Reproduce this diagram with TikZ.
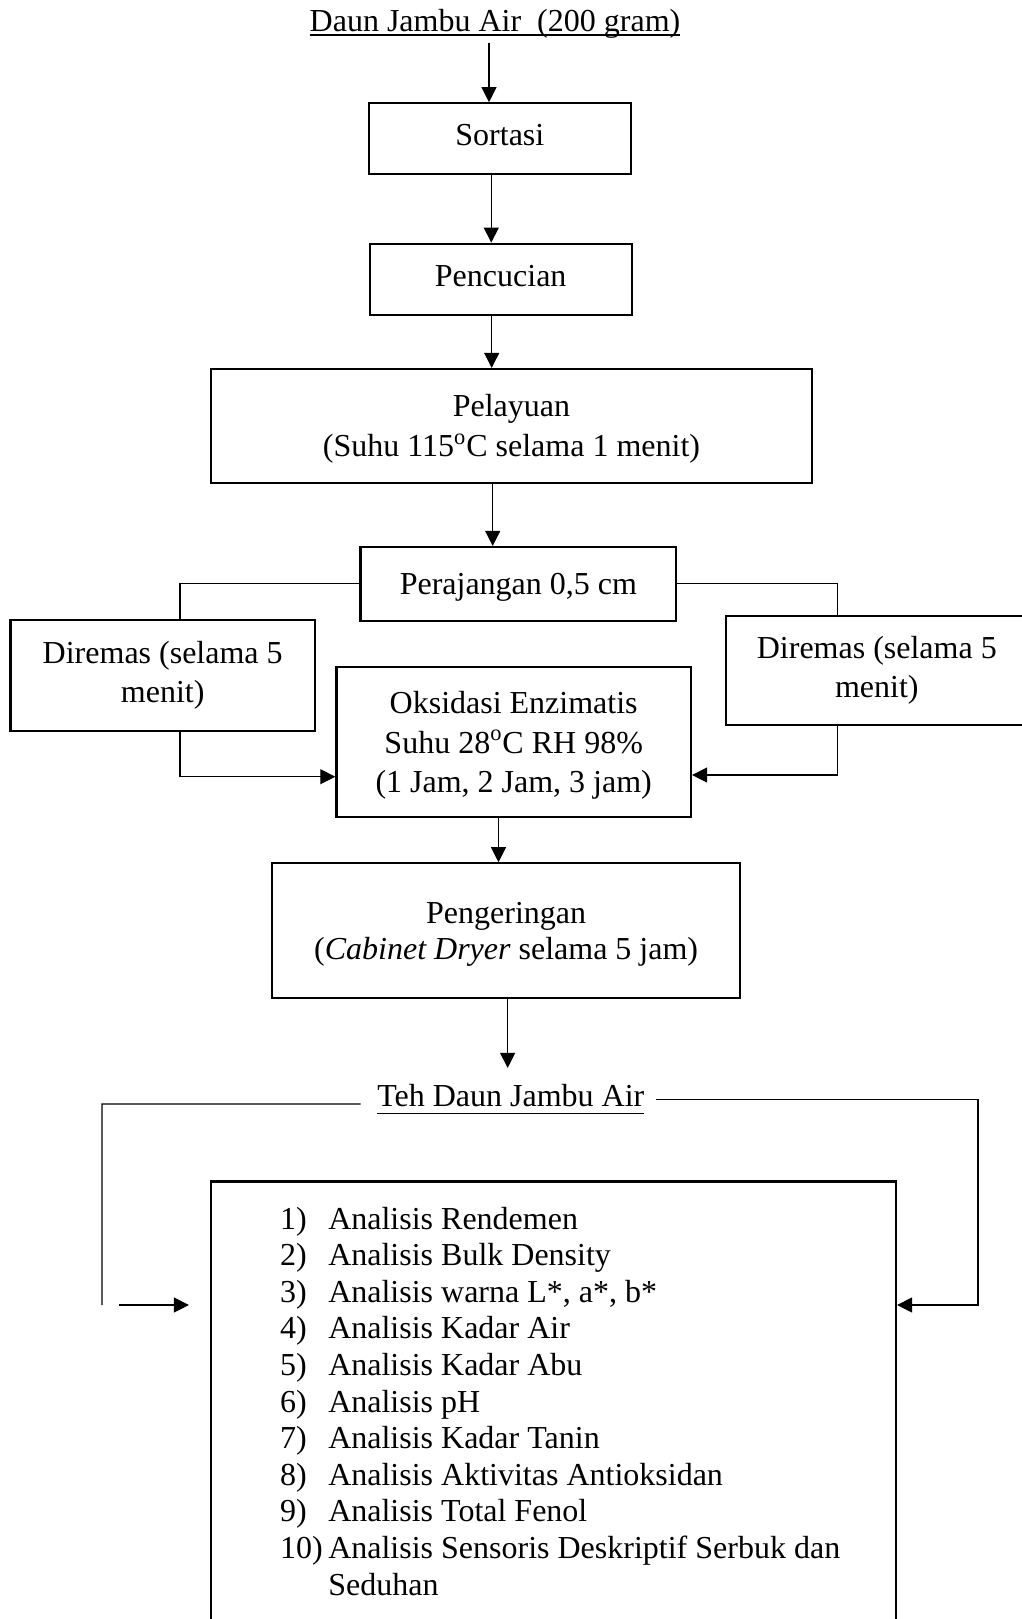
\documentclass[tikz,border=0pt]{standalone}
\usepackage{fontspec}
\setmainfont{Liberation Serif}
\usetikzlibrary{arrows.meta}
\begin{document}
\begin{tikzpicture}[x=0.5pt,y=-0.5pt,
  font=\fontsize{16}{19.5}\selectfont,
  box/.style={draw,line width=1.1pt,align=center,inner sep=0pt},
  conn/.style={line width=0.55pt},
  arr/.style={conn,-{Triangle[length=7.5pt,width=7.5pt]}},
  lbl/.style={inner sep=0pt,outer sep=0pt}]
\useasboundingbox (0,0) rectangle (1022,1619);
\clip (0,0) rectangle (1022,1619);

% title
\node[lbl,anchor=base] (title) at (495,31.7) {Daun Jambu Air~ (200 gram)};
\draw[line width=0.75pt] ([yshift=-1.75pt]title.base west) -- ([yshift=-1.75pt]title.base east);

% boxes
\node[box,minimum width=130.85pt,minimum height=35.5pt,text depth=3.5pt] (sortasi) at (499.85,138.8) {Sortasi};
\node[box,minimum width=131pt,minimum height=35.65pt,text depth=3.5pt] (pencucian) at (500.7,279.35) {Pencucian};
\node[box,minimum width=300.8pt,minimum height=56.85pt,text depth=0pt,font=\fontsize{16}{20}\selectfont] (pelayuan) at (511.5,425.85) {Pelayuan\\(Suhu 115\textsuperscript{o}C selama 1 menit)};
\node[box,minimum width=157.9pt,minimum height=36.85pt,text depth=0pt] (perajangan) at (518.4,583.85) {Perajangan 0,5 cm};
\node[box,minimum width=152.3pt,minimum height=55.35pt] (diremasL) at (162.7,675.35) {Diremas (selama 5\\menit)};
\node[box,minimum width=151.2pt,minimum height=54.65pt] (diremasR) at (876.8,670.35) {Diremas (selama 5\\menit)};
\node[box,minimum width=177.3pt,minimum height=75.3pt,text depth=0pt,font=\fontsize{16}{19.75}\selectfont] (oksidasi) at (513.7,742) {Oksidasi Enzimatis\\Suhu 28\textsuperscript{o}C RH 98\%\\(1 Jam, 2 Jam, 3 jam)};
\node[box,minimum width=233.85pt,minimum height=67.5pt,text depth=0pt,font=\fontsize{16}{18.3}\selectfont] (pengeringan) at (506.15,930.8) {Pengeringan\\(\textit{Cabinet Dryer} selama 5 jam)};

% result label
\node[lbl,anchor=base] (teh) at (510.8,1106.7) {Teh Daun Jambu Air};
\draw[line width=0.75pt] ([yshift=-3.3pt]teh.base west) -- ([yshift=-3.3pt]teh.base east);

% analysis box
\node[box,minimum width=342.65pt,minimum height=234.25pt] (analisis) at (553.35,1415.75) {};
\node[lbl,anchor=base west,font=\fontsize{16}{18.3}\selectfont] (daftar) at (280,1229) {%
\begin{tabular}[t]{@{}p{24.15pt}@{}l@{}}
1) & Analisis Rendemen\\
2) & Analisis Bulk Density\\
3) & Analisis warna L*, a*, b*\\
4) & Analisis Kadar Air\\
5) & Analisis Kadar Abu\\
6) & Analisis pH\\
7) & Analisis Kadar Tanin\\
8) & Analisis Aktivitas Antioksidan\\
9) & Analisis Total Fenol\\
10) & Analisis Sensoris Deskriptif Serbuk dan\\
 & Seduhan
\end{tabular}};

% helper coordinates
\coordinate (a1) at ([xshift=-3pt]title.south);
\coordinate (a2) at ([xshift=-4.3pt]sortasi.south);
\coordinate (a3) at ([xshift=-4.5pt]pencucian.south);
\coordinate (a4) at ([xshift=-9.4pt]pelayuan.south);
\coordinate (a5) at ([xshift=-7.6pt]oksidasi.south);
\coordinate (a6) at ([xshift=0.75pt]pengeringan.south);
\coordinate (tl) at (102,1104);
\coordinate (bl) at (102,1305);
\coordinate (tr) at (978,1099.3);
\coordinate (br) at (978,1305);
\coordinate (bl2) at ([xshift=8.5pt]bl);

% connectors
\draw[arr,shorten <=2pt] (a1) -- (a1 |- sortasi.north);
\draw[arr] (a2) -- (a2 |- pencucian.north);
\draw[arr] (a3) -- (a3 |- pelayuan.north);
\draw[arr] (a4) -- (a4 |- perajangan.north);
\draw[conn] (perajangan.west) -| ([xshift=8.65pt]diremasL.north);
\draw[conn] (perajangan.east) -| ([xshift=-19.55pt]diremasR.north);
\draw[arr] ([xshift=8.65pt]diremasL.south) |- ([yshift=-17.35pt]oksidasi.west);
\draw[arr] ([xshift=-19.55pt]diremasR.south) |- ([yshift=-16.5pt]oksidasi.east);
\draw[arr] (a5) -- (a5 |- pengeringan.north);
\draw[arr,shorten >=8.3pt] (a6) -- (a6 |- teh.north);
\draw[conn] ([xshift=-8.35pt,yshift=1.35pt]teh.base west) -- (tl) -- (bl);
\draw[arr,shorten >=10.35pt] (bl2) -- (bl2 -| analisis.west);
\draw[conn] ([xshift=5.85pt,yshift=3.7pt]teh.base east) -- (tr);
\draw[arr] (tr) -- (br) -- (br -| analisis.east);
\end{tikzpicture}
\end{document}
